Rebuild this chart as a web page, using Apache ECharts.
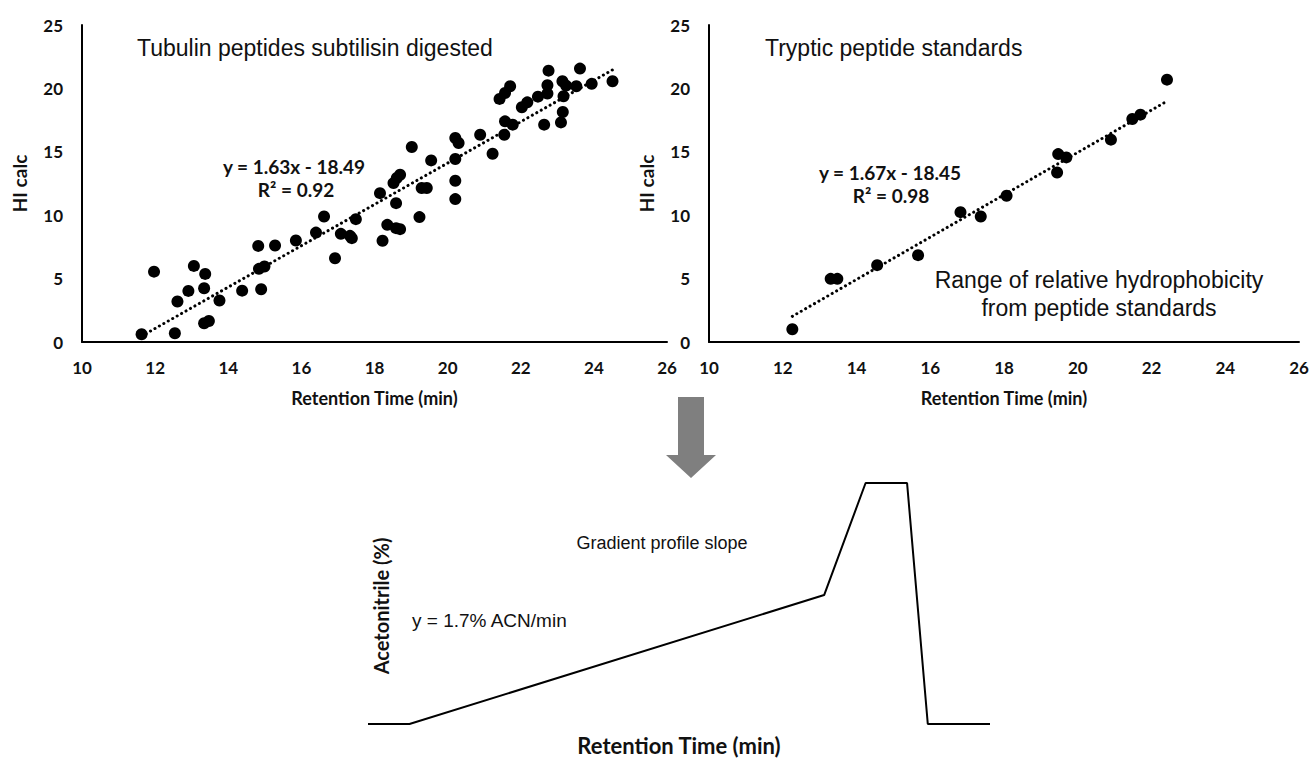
<!DOCTYPE html>
<html>
<head>
<meta charset="utf-8">
<script src="https://cdn.jsdelivr.net/npm/echarts@6/dist/echarts.min.js"></script>
<style>
  html, body { margin: 0; padding: 0; background: #fff; }
  #chart { width: 1313px; height: 760px; }
</style>
</head>
<body>
<div id="chart"></div>
<script>
// tubulin peptides (subtilisin digest): retention time vs calculated HI
const tubulinTime = [11.63, 11.97, 12.54, 12.61, 12.91, 13.06, 13.34, 13.37, 13.34, 13.47, 13.76, 14.38, 14.82, 14.90, 14.84, 14.99, 15.28, 15.85, 16.40, 16.62, 16.92, 17.08, 17.33, 17.38, 17.49, 18.15, 18.22, 18.35, 18.52, 18.61, 18.70, 18.59, 18.59, 18.70, 19.02, 19.23, 19.29, 19.43, 19.55, 20.21, 20.30, 20.21, 20.21, 20.21, 20.89, 21.23, 21.42, 21.57, 21.71, 21.55, 21.57, 21.78, 22.03, 22.18, 22.47, 22.64, 22.73, 22.73, 22.76, 23.10, 23.15, 23.14, 23.24, 23.17, 23.52, 23.62, 23.94, 24.51];
const tubulinHI = [0.61, 5.55, 0.69, 3.19, 4.03, 6.0, 4.24, 5.37, 1.48, 1.66, 3.27, 4.05, 7.58, 4.16, 5.77, 5.95, 7.61, 8.0, 8.63, 9.9, 6.61, 8.53, 8.37, 8.19, 9.69, 11.74, 7.98, 9.24, 12.53, 12.93, 13.19, 10.95, 8.98, 8.9, 15.38, 9.85, 12.14, 12.14, 14.32, 16.09, 15.69, 14.43, 12.72, 11.27, 16.35, 14.85, 19.17, 19.64, 20.17, 16.35, 17.4, 17.14, 18.51, 18.9, 19.35, 17.14, 19.59, 20.25, 21.4, 17.32, 18.14, 20.56, 20.22, 19.38, 20.17, 21.56, 20.36, 20.56];
const tubulinFit = [1.63, -18.49]; // slope, intercept

// tryptic peptide standards
const stdTime = [12.26, 13.30, 13.48, 14.56, 15.67, 16.82, 17.37, 18.07, 19.44, 19.47, 19.69, 20.90, 21.48, 21.70, 22.42];
const stdHI = [1.0, 4.98, 4.98, 6.06, 6.85, 10.24, 9.9, 11.53, 13.37, 14.82, 14.56, 15.96, 17.59, 17.93, 20.69];
const stdFit = [1.67, -18.45];

// gradient profile (schematic)
const gradientTime = [0, 4, 44, 48, 52, 54, 60];
const gradientACN = [0, 0, 53.5, 100, 100, 0, 0];

const xTicks = [10, 12, 14, 16, 18, 20, 22, 24, 26];
const yTicks = [0, 5, 10, 15, 20, 25];

const pairs = (xs, ys) => xs.map((x, i) => [x, ys[i]]);
const fitLine = (xs, fit) => {
  const lo = Math.min(...xs), hi = Math.max(...xs);
  return [[lo, fit[0] * lo + fit[1]], [hi, fit[0] * hi + fit[1]]];
};

const myChart = echarts.init(document.getElementById('chart'), null, { renderer: 'svg' });

const boldFont = { fontFamily: 'Lato', fontWeight: 'bold', color: '#111' };
const dotted = { color: '#000', width: 3, type: [0.1, 5], cap: 'round' };

function scatterX(idx) {
  return {
    gridIndex: idx,
    type: 'value',
    min: xTicks[0],
    max: xTicks[xTicks.length - 1],
    interval: 2,
    axisLine: { lineStyle: { color: '#000', width: 2 } },
    axisTick: { show: false },
    splitLine: { show: false },
    axisLabel: Object.assign({ fontSize: 17, margin: 17 }, boldFont),
    name: 'Retention Time (min)',
    nameLocation: 'middle',
    nameGap: 47,
    nameTextStyle: Object.assign({ fontSize: 18 }, boldFont),
  };
}
function scatterY(idx) {
  return {
    gridIndex: idx,
    type: 'value',
    min: yTicks[0],
    max: yTicks[yTicks.length - 1],
    interval: 5,
    axisLine: { show: true, lineStyle: { color: '#000', width: 2 } },
    axisTick: { show: false },
    splitLine: { show: false },
    axisLabel: Object.assign({ fontSize: 17, margin: 19 }, boldFont),
    name: 'HI calc',
    nameLocation: 'middle',
    nameRotate: 90,
    nameGap: 53,
    nameTextStyle: Object.assign({ fontSize: 19 }, boldFont),
  };
}

function txt(text, x, y, font, align) {
  return {
    type: 'text',
    x: x,
    y: y,
    style: {
      text: text,
      font: font,
      fill: '#111',
      align: align || 'center',
      textAlign: align || 'center',
      verticalAlign: 'middle',
      textVerticalAlign: 'middle',
    },
  };
}

const option = {
  animation: false,
  grid: [
    { left: 82, top: 25, width: 585, height: 317 },
    { left: 709, top: 25, width: 590, height: 317 },
    { left: 368, top: 483, width: 622, height: 241 },
  ],
  xAxis: [
    scatterX(0),
    scatterX(1),
    {
      gridIndex: 2,
      type: 'value',
      min: 0,
      max: 60,
      axisLine: { show: false },
      axisTick: { show: false },
      axisLabel: { show: false },
      splitLine: { show: false },
      name: 'Retention Time (min)',
      nameLocation: 'middle',
      nameGap: 10,
      nameTextStyle: Object.assign({ fontSize: 22 }, boldFont),
    },
  ],
  yAxis: [
    scatterY(0),
    scatterY(1),
    {
      gridIndex: 2,
      type: 'value',
      min: 0,
      max: 100,
      axisLine: { show: false },
      axisTick: { show: false },
      axisLabel: { show: false },
      splitLine: { show: false },
    },
  ],
  series: [
    {
      type: 'scatter',
      xAxisIndex: 0,
      yAxisIndex: 0,
      symbolSize: 12,
      itemStyle: { color: '#000', opacity: 1 },
      data: pairs(tubulinTime, tubulinHI),
    },
    {
      type: 'line',
      xAxisIndex: 0,
      yAxisIndex: 0,
      symbol: 'none',
      lineStyle: dotted,
      data: fitLine(tubulinTime, tubulinFit),
    },
    {
      type: 'scatter',
      xAxisIndex: 1,
      yAxisIndex: 1,
      symbolSize: 12,
      itemStyle: { color: '#000', opacity: 1 },
      data: pairs(stdTime, stdHI),
    },
    {
      type: 'line',
      xAxisIndex: 1,
      yAxisIndex: 1,
      symbol: 'none',
      lineStyle: dotted,
      data: fitLine(stdTime, stdFit),
    },
    {
      type: 'line',
      xAxisIndex: 2,
      yAxisIndex: 2,
      symbol: 'none',
      clip: false,
      lineStyle: { color: '#000', width: 2 },
      data: pairs(gradientTime, gradientACN),
    },
  ],
  graphic: [
    txt('Tubulin peptides subtilisin digested', 137, 48, '23px "Liberation Sans"', 'left'),
    txt('y = 1.63x - 18.49', 294, 166, 'bold 19px Lato'),
    txt('R\u00b2 = 0.92', 296, 189, 'bold 19px Lato'),
    txt('Tryptic peptide standards', 765, 48, '23px "Liberation Sans"', 'left'),
    txt('y = 1.67x - 18.45', 890, 172, 'bold 19px Lato'),
    txt('R\u00b2 = 0.98', 891, 195, 'bold 19px Lato'),
    txt('Range of relative hydrophobicity', 1099, 280, '23px "Liberation Sans"'),
    txt('from peptide standards', 1099, 308, '23px "Liberation Sans"'),
    txt('Gradient profile slope', 662, 543, '18px "Liberation Sans"'),
    txt('y = 1.7% ACN/min', 412, 620, '19px "Liberation Sans"', 'left'),
    Object.assign(txt('Acetonitrile (%)', 381, 606, 'bold 20px Lato'), { rotation: Math.PI / 2 }),
    {
      // down arrow between the scatter plots and the gradient
      type: 'polygon',
      shape: {
        points: [[678, 397], [704, 397], [704, 455], [716, 455], [691, 478], [666, 455], [678, 455]],
      },
      style: { fill: '#7f7f7f' },
    },
  ],
};

myChart.setOption(option);
</script>
</body>
</html>
